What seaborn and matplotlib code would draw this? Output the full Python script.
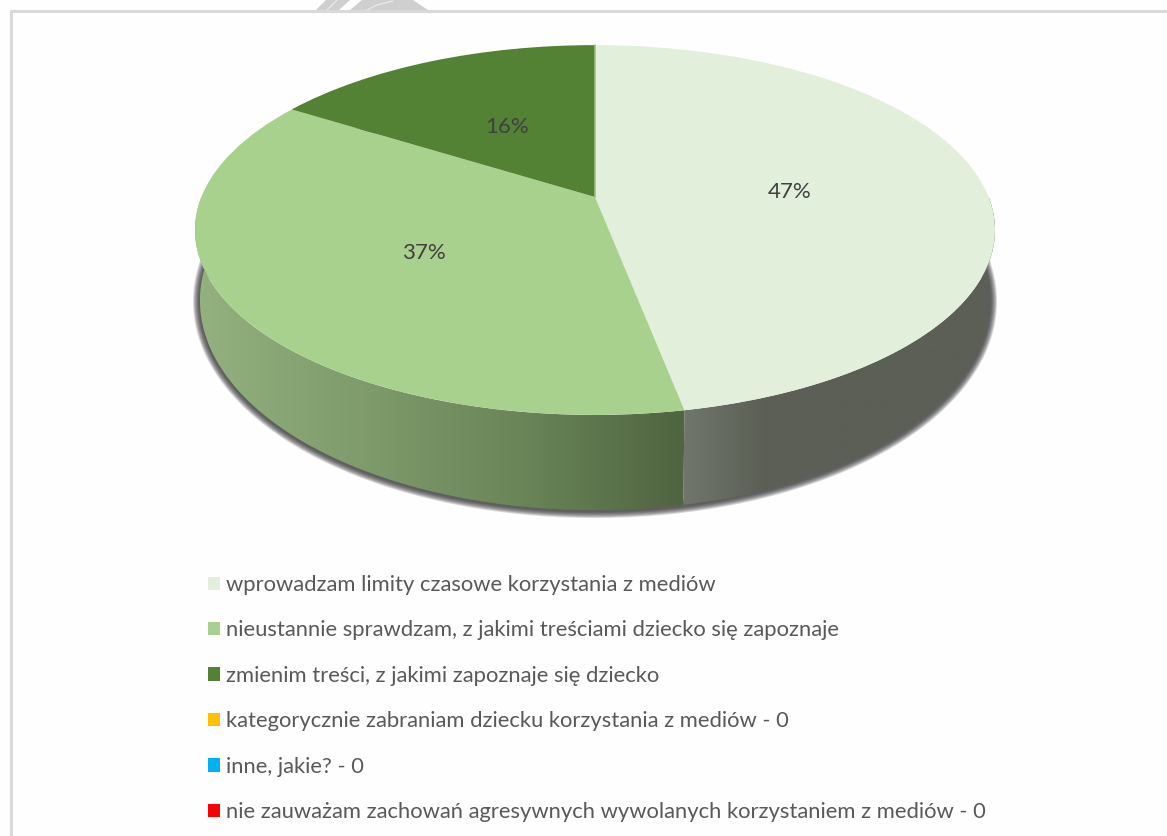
import numpy as np
import matplotlib
matplotlib.use("Agg")
import matplotlib.pyplot as plt
from matplotlib.patches import Polygon
from matplotlib.transforms import Transform, Affine2D
import seaborn as sns

# Data
labels = [
    "wprowadzam limity czasowe korzystania z mediów",
    "nieustannie sprawdzam, z jakimi treściami dziecko się zapoznaje",
    "zmienim treści, z jakimi zapoznaje się dziecko",
    "kategorycznie zabraniam dziecku korzystania z mediów - 0",
    "inne, jakie? - 0",
    "nie zauważam zachowań agresywnych wywolanych korzystaniem z mediów - 0",
]
values = [47, 37, 16, 0, 0, 0]
colors = ["#E2EFDA", "#A9D18E", "#548235", "#FFC000", "#00B0F0", "#FF0000"]
wall_colors = [["#71766C", "#5C6055", "#5B5F55", "#5B5F55", "#5B5F55"],
               ["#93B27F", "#7F9C6C", "#6A8558", "#4F6440"]]

sns.set_theme(style="white")
plt.rcParams["font.family"] = ["Lato", "DejaVu Sans"]

# perspective of the pie top, in picture pixels
cx, top_y, low_y = 595, 197, 263
k = 0.1785


def project(x, y, a, c, y0):
    d = 1 + k * y
    return cx + a * x / d, y0 - c * y / d


class Tilt(Transform):
    input_dims = 2
    output_dims = 2

    def transform_non_affine(self, xy):
        xy = np.asarray(xy, dtype=float)
        return np.column_stack(project(xy[:, 0], xy[:, 1], 393.6, 179, top_y))


fig = plt.figure(figsize=(11.67, 8.36), dpi=100, facecolor="#FEFEFE")
ax = fig.add_axes([0, 0, 1, 1])

wedges, _, autotexts = ax.pie(
    values, colors=colors, startangle=90, counterclock=False,
    autopct=lambda p: f"{p:.0f}%" if p > 0 else "", pctdistance=0.5,
    wedgeprops={"linewidth": 0}, textprops={"fontsize": 16, "color": "#404040"},
)
ax.set_aspect("auto")
ax.set_xlim(0, 1167)
ax.set_ylim(836, 0)
ax.axis("off")

tilt = Tilt() + ax.transData
for w in wedges:
    w.set_transform(tilt)
    w.set_zorder(5)
for t in autotexts:
    t.set_transform(tilt + Affine2D().translate(0, -3))
    t.set_zorder(6)

# pale seam at the start of the first slice
seam_x, seam_y = project(np.array([0, 0]), np.array([0, 1]), 393.6, 179, top_y)
ax.plot(seam_x - 0.5, seam_y, color="#9CC084", lw=1.2, zorder=5.5)

# frame of the slide
ax.plot([10.5, 10.5, 1167], [836, 11, 11], color="#D9D9D9", lw=2.2, zorder=1)

# watermark piece above the frame
ax.add_patch(Polygon([[316, 10], [326, 0], [350, 0], [339, 10]], color="#CFCFCF", lw=0, zorder=0))
ax.add_patch(Polygon([[350, 10], [362, 0], [413, 0], [428, 10]], color="#CFCFCF", lw=0, zorder=0))
ax.plot([327, 337], [10, 0], color="#EDEDED", lw=0.8, zorder=0.5)
ax.plot([367, 377, 393], [10, 5, 1], color="#EDEDED", lw=0.8, zorder=0.5)

# lower rim, shadow and side wall
t_all = np.radians(np.linspace(0, 360, 361))
sx, sy = project(np.cos(t_all), np.sin(t_all), 388.7, 203, low_y)
for lw in np.arange(10, 1, -1.2):
    ax.plot(sx, sy + 1, color="#333333", lw=lw, alpha=0.17, zorder=2)

for w, cols in zip(wedges[:2], wall_colors):
    # only the part of the rim facing the viewer
    lo, hi = max(w.theta1, -180), min(w.theta2, 0)
    th = np.radians(np.linspace(lo, hi, 200))
    ux, uy = project(np.cos(th), np.sin(th), 393.6, 179, top_y)
    dx, dy = project(np.cos(th), np.sin(th), 388.7, 203, low_y)
    poly = np.vstack([np.column_stack([ux, uy]), np.column_stack([dx, dy])[::-1]])
    patch = Polygon(poly, closed=True, facecolor="none", lw=0, zorder=3)
    ax.add_patch(patch)
    xa, xb = poly[:, 0].min(), poly[:, 0].max()
    cmap = sns.blend_palette(cols, as_cmap=True)
    im = ax.imshow(np.linspace(0, 1, 256)[None, :], cmap=cmap, aspect="auto",
                   extent=[xa, xb, poly[:, 1].max(), poly[:, 1].min()], zorder=3)
    im.set_clip_path(patch)
ax.set_xlim(0, 1167)
ax.set_ylim(836, 0)

leg = ax.legend(
    wedges, labels, loc="upper left", bbox_to_anchor=(208, 575), bbox_transform=ax.transData,
    frameon=False, fontsize=15.85, labelcolor="#595959", handlelength=0.55, handleheight=0.55,
    handletextpad=0.27, labelspacing=1.155, borderpad=0, borderaxespad=0,
)
leg.set_zorder(7)

fig.savefig("out.png", dpi=100, facecolor=fig.get_facecolor())
